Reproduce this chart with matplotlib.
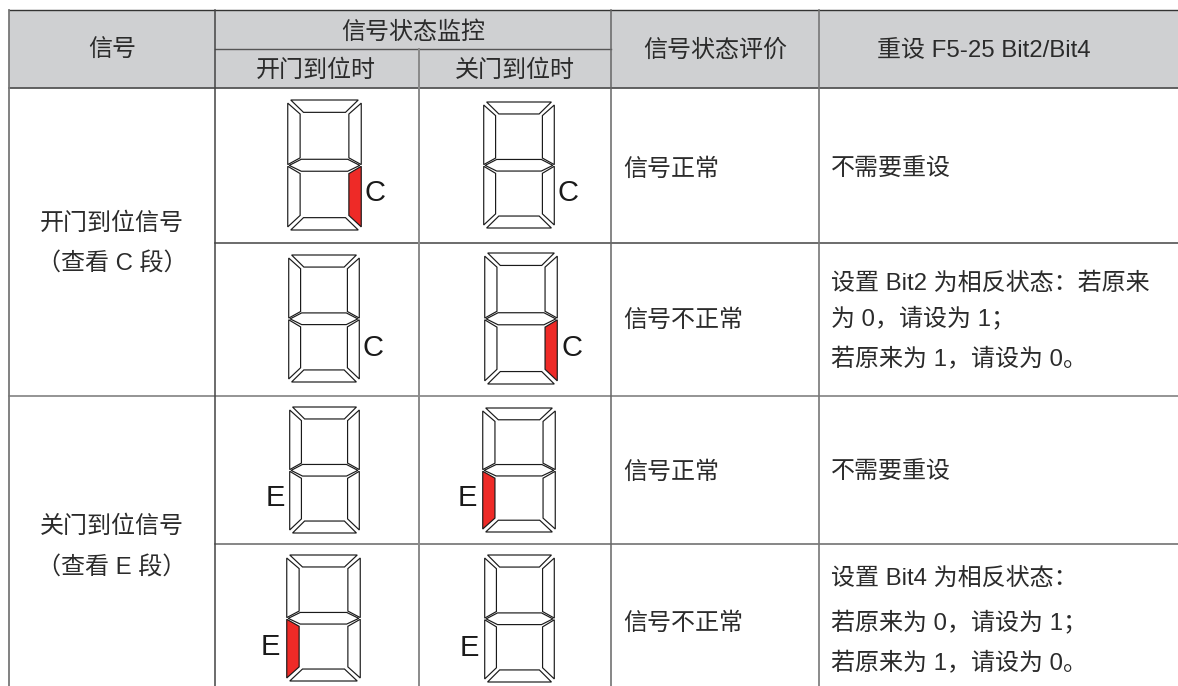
import matplotlib
matplotlib.use('Agg')
import matplotlib.pyplot as plt
from matplotlib.patches import Polygon, Rectangle

plt.rcParams['font.family'] = ['Liberation Sans', 'Noto Sans CJK SC']

TEXT_COLOR = '#2b2b2b'
HEADER_COLOR = '#cfd0d2'
RED = '#ee2a27'
FONT_SIZE = 17.3
TEXT_SHIFT = 1.5

# table text
header_signal = '信号'
header_monitor = '信号状态监控'
header_open = '开门到位时'
header_close = '关门到位时'
header_eval = '信号状态评价'
header_reset = '重设 F5-25 Bit2/Bit4'
signal_names = [['开门到位信号', '（查看 C 段）'], ['关门到位信号', '（查看 E 段）']]
evaluations = ['信号正常', '信号不正常', '信号正常', '信号不正常']
reset_lines = [
    ['不需要重设'],
    ['设置 Bit2 为相反状态：若原来', '为 0，请设为 1；', '若原来为 1，请设为 0。'],
    ['不需要重设'],
    ['设置 Bit4 为相反状态：', '若原来为 0，请设为 1；', '若原来为 1，请设为 0。'],
]

# which digit has a lit segment, one entry per digit
digit_labels = ['C', 'C', 'C', 'C', 'E', 'E', 'E', 'E']
digit_lit = ['lower_right', None, None, 'lower_right', None, 'lower_left', 'lower_left', None]

# segments in digit units (0-1 across, 0-1 down)
segments = {
    'top': [(0.05, 0), (0.95, 0), (0.78, 0.095), (0.22, 0.095)],
    'upper_left': [(0.01, 0.024), (0.175, 0.108), (0.175, 0.445), (0.01, 0.497)],
    'upper_right': [(0.99, 0.024), (0.825, 0.108), (0.825, 0.445), (0.99, 0.497)],
    'middle': [(0.03, 0.503), (0.19, 0.456), (0.81, 0.456), (0.97, 0.503), (0.81, 0.548), (0.19, 0.548)],
    'lower_left': [(0.01, 0.51), (0.175, 0.566), (0.175, 0.888), (0.01, 0.976)],
    'lower_right': [(0.99, 0.51), (0.825, 0.566), (0.825, 0.888), (0.99, 0.976)],
    'bottom': [(0.05, 1), (0.22, 0.905), (0.78, 0.905), (0.95, 1)],
}

# digit boxes in pixels: x0, x1, y0, y1, then label centre
digit_boxes = [
    (287, 362, 100, 230, 375, 193),
    (483, 555, 102, 228, 568, 193),
    (288, 360, 255, 382, 373, 348),
    (484, 558, 253, 384, 572, 348),
    (289, 360, 407, 533, 275, 498),
    (482, 556, 408, 532, 467, 498),
    (286, 361, 555, 681, 270, 647),
    (484, 555, 555, 682, 469, 648),
]


def draw_digit(ax, box, label, lit):
    x0, x1, y0, y1, lx, ly = box
    for name, pts in segments.items():
        xy = [(x0 + u * (x1 - x0), y0 + v * (y1 - y0)) for u, v in pts]
        face = RED if name == lit else 'white'
        ax.add_patch(Polygon(xy, closed=True, facecolor=face, edgecolor='#1a1a1a', linewidth=0.85, zorder=3))
    ax.text(lx, ly, label, fontsize=21, color='#1a1a1a', ha='center', va='center')


fig = plt.figure(figsize=(11.78, 6.86), dpi=100)
ax = fig.add_axes([0, 0, 1, 1])
ax.set_xlim(0, 1178)
ax.set_ylim(686, 0)
ax.axis('off')

# header band and grid
ax.add_patch(Rectangle((8.7, 10.3), 1178 - 8.7, 78, facecolor=HEADER_COLOR, edgecolor='none'))
ax.plot([8.7, 1178], [10.3, 10.3], color='#333333', lw=1.0)
ax.plot([8.7, 1178], [88.3, 88.3], color='#555555', lw=1.3)
ax.plot([215.3, 611], [49.3, 49.3], color='#555555', lw=1.0)
ax.plot([215.3, 1178], [242.8, 242.8], color='#444444', lw=1.1)
ax.plot([8.7, 1178], [395.7, 395.7], color='#777777', lw=1.1)
ax.plot([215.3, 1178], [544.3, 544.3], color='#666666', lw=1.1)
ax.plot([8.7, 8.7], [10.3, 686], color='#777777', lw=1.3)
ax.plot([215.3, 215.3], [10.3, 686], color='#444444', lw=1.1)
ax.plot([419, 419], [49.3, 686], color='#8a8a8a', lw=1.4)
ax.plot([611, 611], [10.3, 686], color='#666666', lw=1.1)
ax.plot([819, 819], [10.3, 686], color='#777777', lw=1.2)

# header text
header_font = dict(fontsize=FONT_SIZE, color=TEXT_COLOR, ha='center', va='center')
ax.text(112.5, 49.5 + TEXT_SHIFT, header_signal, **header_font)
ax.text(413, 31 + TEXT_SHIFT, header_monitor, **header_font)
ax.text(316, 69 + TEXT_SHIFT, header_open, **header_font)
ax.text(515, 69 + TEXT_SHIFT, header_close, **header_font)
ax.text(715, 49.5 + TEXT_SHIFT, header_eval, **header_font)
ax.text(984, 49.5 + TEXT_SHIFT, header_reset, **header_font)

# first column
name_y = [(222, 263), (525, 567)]
for lines, ys in zip(signal_names, name_y):
    for line, y in zip(lines, ys):
        ax.text(112, y + TEXT_SHIFT, line, **header_font)

# evaluation column
eval_y = [168, 319, 471, 622]
for text, y in zip(evaluations, eval_y):
    ax.text(623, y + TEXT_SHIFT, text, fontsize=FONT_SIZE, color=TEXT_COLOR, ha='left', va='center')

# reset column
reset_y = [[168], [282, 317, 358], [471], [577, 622, 662]]
for lines, ys in zip(reset_lines, reset_y):
    for line, y in zip(lines, ys):
        ax.text(831, y + TEXT_SHIFT, line, fontsize=FONT_SIZE, color=TEXT_COLOR, ha='left', va='center')

for box, label, lit in zip(digit_boxes, digit_labels, digit_lit):
    draw_digit(ax, box, label, lit)

fig.savefig('out.png', dpi=100)
